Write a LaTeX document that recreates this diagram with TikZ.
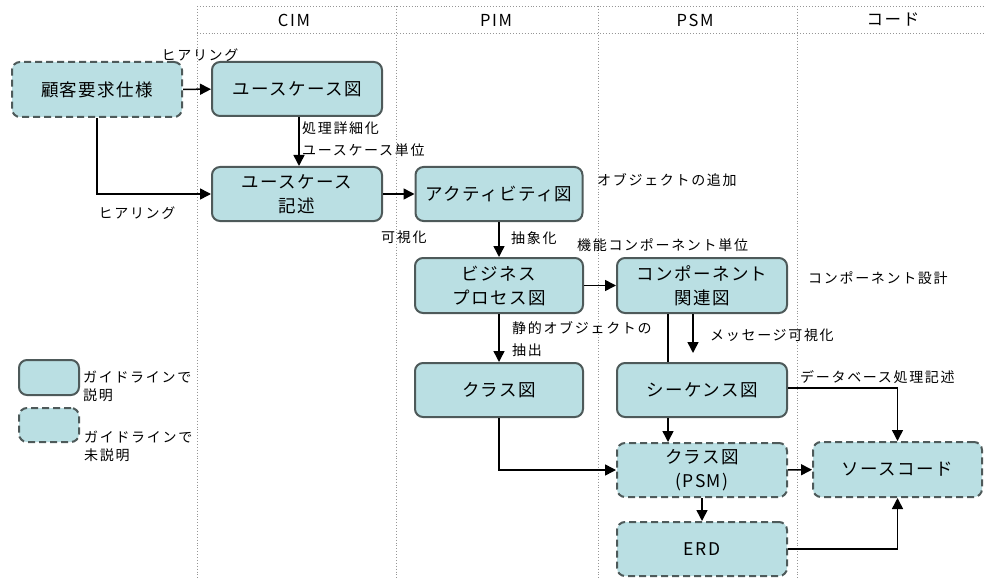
\documentclass[tikz,border=0pt]{standalone}
\usepackage{fontspec}
\setmainfont{Noto Sans CJK JP}
\usetikzlibrary{arrows.meta}
\definecolor{boxfill}{RGB}{186,223,227}
\definecolor{boxline}{RGB}{78,90,90}
\definecolor{lanegray}{RGB}{150,150,150}
\tikzset{
  artifact/.style={draw=boxline, line width=2pt, fill=boxfill, rounded corners=8pt,
    align=center, inner sep=0pt,
    font=\fontsize{17.5}{24}\selectfont\addfontfeature{LetterSpace=8}},
  undoc/.style={artifact, dash pattern=on 7pt off 4pt},
  arr/.style={line width=1.5pt, -{Triangle[length=11pt,width=11pt]}},
  plain/.style={line width=1.5pt},
  lbl/.style={inner sep=0pt, align=left,
    font=\fontsize{14}{18}\selectfont\addfontfeature{LetterSpace=12}},
  hdr/.style={inner sep=0pt,
    font=\fontsize{16.5}{18}\selectfont\addfontfeature{LetterSpace=10}},
  lane/.style={draw=lanegray, line width=0.9pt, dotted},
}
\begin{document}
\begin{tikzpicture}[x=1pt, y=-1pt]
\useasboundingbox (0,0) rectangle (984,580);

% swimlane grid and headers
\draw[lane] (197,6) -- (984,6);
\draw[lane] (197,33) -- (984,33);
\foreach \lx in {197,396,598,797} \draw[lane] (\lx,6) -- (\lx,580);
\node[hdr] (hcim)  at (294,20) {CIM};
\node[hdr] (hpim)  at (496,20) {PIM};
\node[hdr] (hpsm)  at (695,20) {PSM};
\node[hdr] (hcode) at (893,20) {コード};

% artifacts
\node[undoc,    minimum width=170pt, minimum height=55pt] (cust) at (97,89.5)  {顧客要求仕様};
\node[artifact, minimum width=170pt, minimum height=54pt] (ucd)  at (297,89)   {ユースケース図};
\node[artifact, minimum width=170pt, minimum height=54pt] (ucs)  at (297,194)  {ユースケース\\記述};
\node[artifact, minimum width=167pt, minimum height=54pt] (act)  at (499,194)  {アクティビティ図};
\node[artifact, minimum width=168pt, minimum height=55pt] (bp)   at (499,285.5) {ビジネス\\プロセス図};
\node[artifact, minimum width=170pt, minimum height=55pt] (comp) at (702,285.5) {コンポーネント\\関連図};
\node[artifact, minimum width=168pt, minimum height=54pt] (cls)  at (499,390)  {クラス図};
\node[artifact, minimum width=170pt, minimum height=54pt] (seq)  at (702,390)  {シーケンス図};
\node[undoc,    minimum width=170pt, minimum height=54pt] (cpsm) at (702,470)  {クラス図\\(PSM)};
\node[undoc,    minimum width=169pt, minimum height=55pt] (src)  at (897.5,469.5) {ソースコード};
\node[undoc,    minimum width=170pt, minimum height=54pt] (erd)  at (702,549)  {ERD};

% legend
\node[artifact, minimum width=60pt, minimum height=35pt] (leg1) at (49,377.5) {};
\node[undoc,    minimum width=60pt, minimum height=34pt] (leg2) at (49,425) {};
\node[lbl, anchor=west] (leg1t) at (83,386) {ガイドラインで\\説明};
\node[lbl, anchor=west] (leg2t) at (84,446) {ガイドラインで\\未説明};

% connectors
\draw[arr] (cust) -- (ucd);
\draw[arr] (cust.south) |- (ucs.west);
\draw[arr] ([xshift=2pt]ucd.south) -- ([xshift=2pt]ucs.north);
\draw[arr] (ucs) -- (act);
\draw[arr] (act) -- (bp);
\draw[arr] (bp) -- (comp);
\draw[arr] (bp) -- (cls);
\draw[plain] ([xshift=-34pt]comp.south) -- ([xshift=-34pt]seq.north);
\coordinate (msgend) at (693,353);
\draw[arr] (comp.south -| msgend) -- (msgend);
\draw[arr] ([xshift=-34pt]seq.south) -- ([xshift=-34pt]cpsm.north);
\draw[arr] ([yshift=2pt]seq.east) -| (src.north);
\draw[arr] (cls.south) |- (cpsm.west);
\draw[arr] (cpsm) -- (src);
\draw[arr] (cpsm) -- (erd);
\draw[arr] (erd.east) -| (src.south);

% connector labels
\node[lbl] (l1) at (200,55) {ヒアリング};
\node[lbl] (l2) at (137,213) {ヒアリング};
\node[lbl, anchor=west] (l3) at (302,128) {処理詳細化};
\node[lbl, anchor=west] (l4) at (302,150) {ユースケース単位};
\node[lbl, anchor=west] (l5) at (381,237) {可視化};
\node[lbl, anchor=west] (l6) at (597,180) {オブジェクトの追加};
\node[lbl, anchor=west] (l7) at (511,238) {抽象化};
\node[lbl, anchor=west] (l8) at (577,245) {機能コンポーネント単位};
\node[lbl, anchor=west] (l9) at (808,278) {コンポーネント設計};
\node[lbl, anchor=north west] (l10) at (512,321) {静的オブジェクトの\\[4pt]抽出};
\node[lbl, anchor=west] (l11) at (710,335) {メッセージ可視化};
\node[lbl, anchor=west] (l12) at (800,377) {データベース処理記述};
\end{tikzpicture}
\end{document}
